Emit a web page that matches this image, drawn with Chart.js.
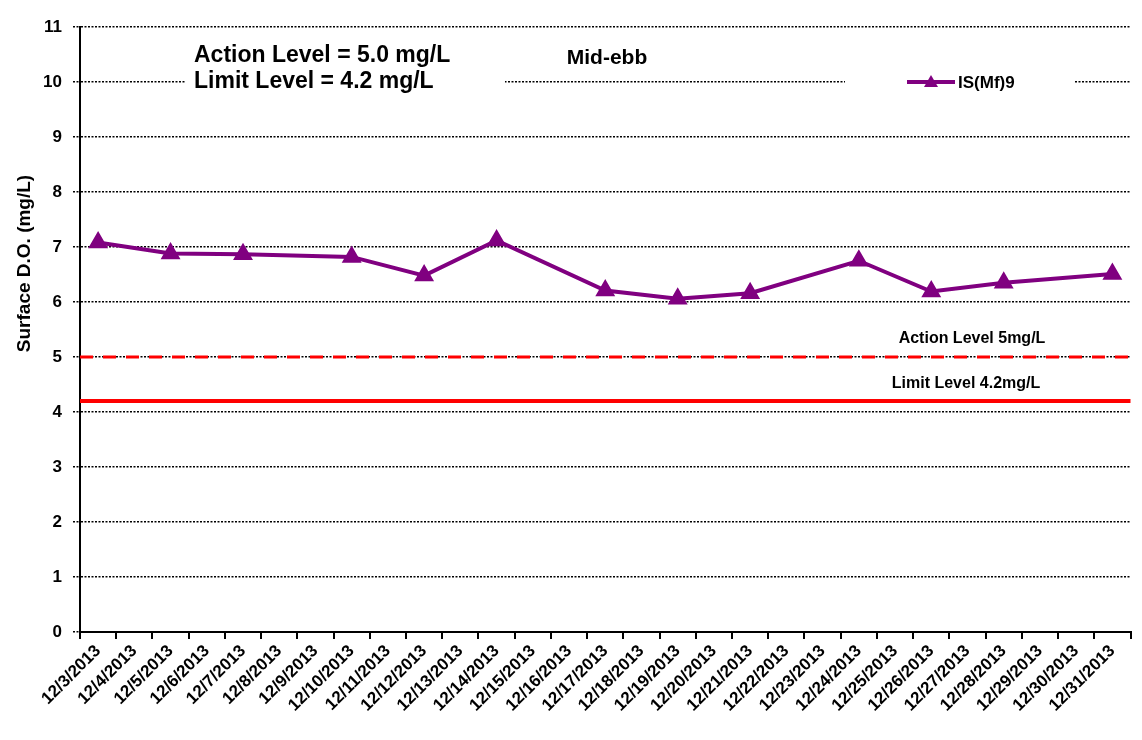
<!DOCTYPE html>
<html>
<head>
<meta charset="utf-8">
<script src="https://cdn.jsdelivr.net/npm/chart.js@4"></script>
<style>
  html, body { margin: 0; padding: 0; background: #fff; }
  #wrap { width: 1142px; height: 740px; }
</style>
</head>
<body>
<div id="wrap"><canvas id="doChart" width="1142" height="740"></canvas></div>
<script>
// categories (every day of the survey period)
const dates = ['12/3/2013', '12/4/2013', '12/5/2013', '12/6/2013', '12/7/2013', '12/8/2013', '12/9/2013',
  '12/10/2013', '12/11/2013', '12/12/2013', '12/13/2013', '12/14/2013', '12/15/2013', '12/16/2013',
  '12/17/2013', '12/18/2013', '12/19/2013', '12/20/2013', '12/21/2013', '12/22/2013', '12/23/2013',
  '12/24/2013', '12/25/2013', '12/26/2013', '12/27/2013', '12/28/2013', '12/29/2013', '12/30/2013',
  '12/31/2013'];

// IS(Mf)9 surface DO, mid-ebb (null = no survey that day)
const isMf9 = [7.08, null, 6.88, null, 6.87, null, null, 6.82, null, 6.48, null, 7.12, null, null,
  6.21, null, 6.06, null, 6.16, null, null, 6.75, null, 6.19, null, 6.35, null, null, 6.51];

const actionLevel = 5.0;
const limitLevel = 4.2;
const yTicks = [0, 1, 2, 3, 4, 5, 6, 7, 8, 9, 10, 11];

const FONT = 'Arial, "Liberation Sans", sans-serif';
const purple = '#800080';

const overlay = {
  id: 'overlay',
  afterDraw(chart) {
    const { ctx, chartArea: a, scales: { y } } = chart;
    const y10 = y.getPixelForValue(10);
    ctx.save();

    // white boxes that break the gridline behind the text block and the legend
    ctx.fillStyle = '#fff';
    ctx.fillRect(a.left + 105, y10 - 10, 320, 20);
    ctx.fillRect(a.left + 765, y10 - 10, 230, 20);

    ctx.fillStyle = '#000';
    ctx.textBaseline = 'middle';
    ctx.textAlign = 'left';
    ctx.font = 'bold 23px ' + FONT;
    ctx.fillText('Action Level = 5.0 mg/L', a.left + 114, y.getPixelForValue(10.48));
    ctx.fillText('Limit Level = 4.2 mg/L', a.left + 114, y10);

    ctx.textAlign = 'center';
    ctx.font = 'bold 21px ' + FONT;
    ctx.fillText('Mid-ebb', a.left + 527, y.getPixelForValue(10.43));

    // legend
    const lx = a.left + 827;
    ctx.strokeStyle = purple;
    ctx.lineWidth = 4;
    ctx.beginPath();
    ctx.moveTo(lx, y10);
    ctx.lineTo(lx + 48, y10);
    ctx.stroke();
    ctx.fillStyle = purple;
    ctx.beginPath();
    ctx.moveTo(lx + 24, y10 - 7);
    ctx.lineTo(lx + 31, y10 + 5);
    ctx.lineTo(lx + 17, y10 + 5);
    ctx.closePath();
    ctx.fill();
    ctx.fillStyle = '#000';
    ctx.textAlign = 'left';
    ctx.font = 'bold 17px ' + FONT;
    ctx.fillText('IS(Mf)9', lx + 51, y10 + 1);

    // level labels
    ctx.textAlign = 'center';
    ctx.font = 'bold 16px ' + FONT;
    ctx.fillText('Action Level 5mg/L', a.left + 892, y.getPixelForValue(5.33));
    ctx.fillText('Limit Level 4.2mg/L', a.left + 886, y.getPixelForValue(4.52));

    // y axis title
    ctx.translate(25, y.getPixelForValue(6.7));
    ctx.rotate(-Math.PI / 2);
    ctx.font = 'bold 19px ' + FONT;
    ctx.fillText('Surface D.O. (mg/L)', 0, 0);
    ctx.restore();
  }
};

new Chart(document.getElementById('doChart'), {
  type: 'line',
  data: {
    labels: dates,
    datasets: [{
      label: 'IS(Mf)9',
      data: isMf9,
      borderColor: purple,
      backgroundColor: purple,
      borderWidth: 4,
      pointStyle: 'triangle',
      pointRadius: 7.5,
      spanGaps: true,
      tension: 0,
      order: 0
    }, {
      label: 'Action Level',
      data: dates.map(() => actionLevel),
      xAxisID: 'xLevel',
      borderColor: '#ff0000',
      borderWidth: 3,
      borderDash: [13, 10],
      pointRadius: 0,
      order: 1
    }, {
      label: 'Limit Level',
      data: dates.map(() => limitLevel),
      xAxisID: 'xLevel',
      borderColor: '#ff0000',
      borderWidth: 4,
      pointRadius: 0,
      order: 2
    }]
  },
  options: {
    responsive: false,
    animation: false,
    layout: { padding: { top: 27, right: 7, left: 0, bottom: 0 } },
    plugins: { legend: { display: false }, tooltip: { enabled: false } },
    scales: {
      x: {
        offset: true,
        afterFit(scale) { scale.height = 108; },
        grid: { offset: true, drawOnChartArea: false, drawTicks: true, tickLength: 7, color: '#000', lineWidth: 2 },
        border: { color: '#000', width: 2 },
        ticks: {
          color: '#000',
          font: { family: FONT, size: 17, weight: 'bold' },
          minRotation: 45,
          maxRotation: 45,
          autoSkip: false,
          padding: 2
        }
      },
      xLevel: {
        type: 'category',
        offset: false,
        display: false
      },
      y: {
        min: yTicks[0],
        max: yTicks[yTicks.length - 1],
        afterFit(scale) { scale.width = 80; },
        afterBuildTicks(scale) { scale.ticks = yTicks.map(v => ({ value: v })); },
        grid: { color: '#000', lineWidth: 1.5, tickLength: 7, tickBorderDash: [2, 1.5] },
        border: { color: '#000', width: 2, dash: [2, 1.5] },
        ticks: {
          color: '#000',
          font: { family: FONT, size: 17, weight: 'bold' },
          padding: 11
        }
      }
    }
  },
  plugins: [overlay]
});
</script>
</body>
</html>
